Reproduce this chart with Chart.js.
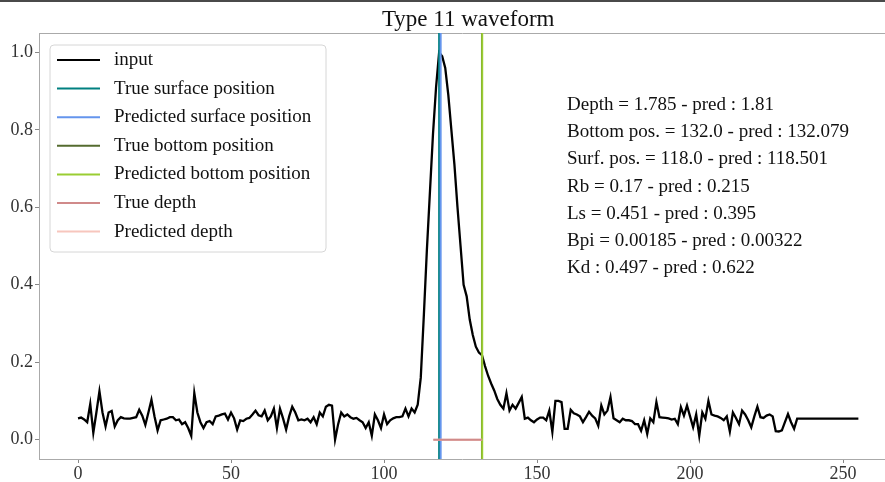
<!DOCTYPE html>
<html>
<head>
<meta charset="utf-8">
<script src="https://cdn.jsdelivr.net/npm/chart.js@4.4.0/dist/chart.umd.min.js"></script>
<style>
  html, body { margin: 0; padding: 0; background: #fff; }
  #wave { display: block; }
</style>
</head>
<body>
<canvas id="wave" width="885" height="482"></canvas>
<script>
// waveform samples, index 0..255
const waveform = [
    0.055, 0.057, 0.052, 0.045, 0.092, 0.018, 0.07, 0.125, 0.07, 0.034,
    0.07, 0.074, 0.034, 0.05, 0.058, 0.055, 0.054, 0.054, 0.056, 0.058,
    0.077, 0.062, 0.038, 0.07, 0.103, 0.06, 0.024, 0.05, 0.052, 0.054,
    0.058, 0.058, 0.05, 0.052, 0.04, 0.045, 0.03, 0.01, 0.12, 0.07,
    0.045, 0.03, 0.045, 0.048, 0.04, 0.06, 0.062, 0.065, 0.067, 0.052,
    0.07, 0.055, 0.026, 0.05, 0.048, 0.054, 0.056, 0.065, 0.075, 0.063,
    0.06, 0.075, 0.05, 0.06, 0.08, 0.03, 0.08, 0.055, 0.026, 0.06,
    0.085, 0.07, 0.05, 0.052, 0.05, 0.054, 0.045, 0.058, 0.04, 0.07,
    0.06, 0.085, 0.09, 0.088, 0.0, 0.04, 0.07, 0.06, 0.065, 0.058,
    0.054, 0.056, 0.05, 0.045, 0.03, 0.045, 0.01, 0.065, 0.05, 0.03,
    0.065, 0.04, 0.05, 0.055, 0.058, 0.058, 0.06, 0.08, 0.06, 0.08,
    0.07, 0.09, 0.16, 0.32, 0.49, 0.64, 0.79, 0.91, 1.0, 0.99,
    0.96, 0.89, 0.8, 0.71, 0.6, 0.5, 0.4, 0.37, 0.31, 0.27,
    0.24, 0.225, 0.218, 0.19, 0.165, 0.145, 0.127, 0.105, 0.09, 0.08,
    0.12, 0.075, 0.09, 0.08, 0.095, 0.11, 0.054, 0.057, 0.05, 0.045,
    0.052, 0.057, 0.057, 0.05, 0.075, 0.02, 0.1, 0.1, 0.097, 0.028,
    0.028, 0.077, 0.068, 0.065, 0.06, 0.045, 0.058, 0.072, 0.062, 0.055,
    0.036, 0.088, 0.065, 0.075, 0.11, 0.055, 0.05, 0.045, 0.054, 0.05,
    0.05, 0.048, 0.04, 0.04, 0.023, 0.05, 0.015, 0.055, 0.045, 0.097,
    0.058, 0.057, 0.056, 0.055, 0.052, 0.054, 0.04, 0.084, 0.062, 0.088,
    0.06, 0.032, 0.065, 0.01, 0.07, 0.054, 0.1, 0.065, 0.062, 0.06,
    0.056, 0.05, 0.06, 0.021, 0.07, 0.056, 0.04, 0.075, 0.065, 0.05,
    0.032, 0.06, 0.085, 0.058, 0.056, 0.062, 0.065, 0.06, 0.022, 0.021,
    0.024, 0.045, 0.066, 0.045, 0.028, 0.054, 0.054, 0.054, 0.054, 0.054,
    0.054, 0.054, 0.054, 0.054, 0.054, 0.054, 0.054, 0.054, 0.054, 0.054,
    0.054, 0.054, 0.054, 0.054, 0.054, 0.054
];

// positions (sample index) of the markers
const surfaceTrue = 118.0;
const surfacePred = 118.501;
const bottomTrue = 132.0;
const bottomPred = 132.079;
const depthTrueSpan = [116.1, 132.0];
const depthPredSpan = [116.1, 132.079];
const depthLevel = 0.0;

const xRange = [-12.75, 263.7];
const yRange = [-0.05, 1.05];
const xTicks = [0, 50, 100, 150, 200, 250];
const yTicks = [0.0, 0.2, 0.4, 0.6, 0.8, 1.0];

const seriesLabels = ['input', 'True surface position', 'Predicted surface position',
    'True bottom position', 'Predicted bottom position', 'True depth', 'Predicted depth'];
const seriesColors = ['#000000', '#008080', '#6495ed', '#556b2f', '#9acd32', '#d08a8a', '#f7c6bd'];

const infoLines = [
    'Depth = 1.785 - pred : 1.81',
    'Bottom pos. = 132.0 - pred : 132.079',
    'Surf. pos. = 118.0 - pred : 118.501',
    'Rb = 0.17 - pred : 0.215',
    'Ls = 0.451 - pred : 0.395',
    'Bpi = 0.00185 - pred : 0.00322',
    'Kd : 0.497 - pred : 0.622'
];

const titleText = 'Type 11 waveform';
const FONT = "'Liberation Serif', 'DejaVu Serif', serif";

function vline(x) {
    return [{ x: x, y: yRange[0] }, { x: x, y: yRange[1] }];
}
function hline(span, y) {
    return [{ x: span[0], y: y }, { x: span[1], y: y }];
}

const seriesData = [
    waveform.map((v, i) => ({ x: i, y: v })),
    vline(surfaceTrue),
    vline(surfacePred),
    vline(bottomTrue),
    vline(bottomPred),
    hline(depthTrueSpan, depthLevel),
    hline(depthPredSpan, depthLevel)
];

// draw order: input at the bottom, true depth on top of predicted depth
const drawOrder = [7, 6, 5, 4, 3, 1, 2];

const datasets = seriesLabels.map((label, k) => ({
    label: label,
    data: seriesData[k],
    borderColor: seriesColors[k],
    backgroundColor: seriesColors[k],
    borderWidth: k === 0 ? 2.3 : 2,
    pointRadius: 0,
    fill: false,
    tension: 0,
    order: drawOrder[k]
}));

const overlay = {
    id: 'overlay',
    afterDraw(chart) {
        const ctx = chart.ctx;
        const area = chart.chartArea;
        const xs = chart.scales.x;
        ctx.save();

        // outer frame line at the top of the picture
        ctx.fillStyle = '#4a4a4a';
        ctx.fillRect(0, 0, chart.width, 2);

        // title, centred over the full axes span
        ctx.fillStyle = '#111';
        ctx.font = '23px ' + FONT;
        ctx.textAlign = 'center';
        ctx.textBaseline = 'middle';
        ctx.fillText(titleText, xs.getPixelForValue(127.5), 20);

        // legend box
        const bx = area.left + 11, by = area.top + 12, bw = 276, bh = 207;
        ctx.beginPath();
        ctx.roundRect(bx, by, bw, bh, 4);
        ctx.fillStyle = 'rgba(255,255,255,0.85)';
        ctx.fill();
        ctx.strokeStyle = '#d6d6d6';
        ctx.lineWidth = 1;
        ctx.stroke();

        ctx.font = '19px ' + FONT;
        ctx.textAlign = 'left';
        ctx.textBaseline = 'middle';
        chart.data.datasets.forEach((ds, k) => {
            const y = by + 15 + k * 28.6;
            ctx.beginPath();
            ctx.moveTo(bx + 7, y);
            ctx.lineTo(bx + 50, y);
            ctx.strokeStyle = ds.borderColor;
            ctx.lineWidth = 2;
            ctx.stroke();
            ctx.fillStyle = '#111';
            ctx.fillText(ds.label, bx + 64, y);
        });

        // results text
        ctx.font = '19px ' + FONT;
        infoLines.forEach((t, k) => {
            ctx.fillText(t, area.left + 528, area.top + 72 + k * 27.2);
        });

        ctx.restore();
    }
};

new Chart(document.getElementById('wave'), {
    type: 'line',
    data: { datasets: datasets },
    options: {
        responsive: false,
        animation: false,
        devicePixelRatio: 1,
        layout: { padding: { top: 33, left: 0, right: 0, bottom: 0 } },
        plugins: {
            legend: { display: false },
            title: { display: false },
            tooltip: { enabled: false }
        },
        scales: {
            x: {
                type: 'linear',
                min: xRange[0],
                max: xRange[1],
                afterFit(scale) { scale.height = 23; },
                afterBuildTicks(scale) { scale.ticks = xTicks.map(v => ({ value: v })); },
                grid: { drawOnChartArea: false, drawTicks: true, tickLength: 4, tickColor: '#888' },
                border: { display: true, color: '#aaa', width: 1 },
                ticks: {
                    color: '#333',
                    font: { family: FONT, size: 18 },
                    padding: 0,
                    maxRotation: 0,
                    callback: v => String(v)
                }
            },
            xTop: {
                type: 'linear',
                position: 'top',
                min: xRange[0],
                max: xRange[1],
                afterFit(scale) { scale.height = 0; },
                grid: { display: false },
                border: { display: true, color: '#aaa', width: 1 },
                ticks: { display: false }
            },
            y: {
                type: 'linear',
                min: yRange[0],
                max: yRange[1],
                afterFit(scale) { scale.width = 39; },
                afterBuildTicks(scale) { scale.ticks = yTicks.map(v => ({ value: v })); },
                grid: { drawOnChartArea: false, drawTicks: true, tickLength: 4, tickColor: '#888' },
                border: { display: true, color: '#aaa', width: 1 },
                ticks: {
                    color: '#333',
                    font: { family: FONT, size: 18 },
                    padding: 2,
                    callback: v => v.toFixed(1)
                }
            }
        }
    },
    plugins: [overlay]
});
</script>
</body>
</html>
